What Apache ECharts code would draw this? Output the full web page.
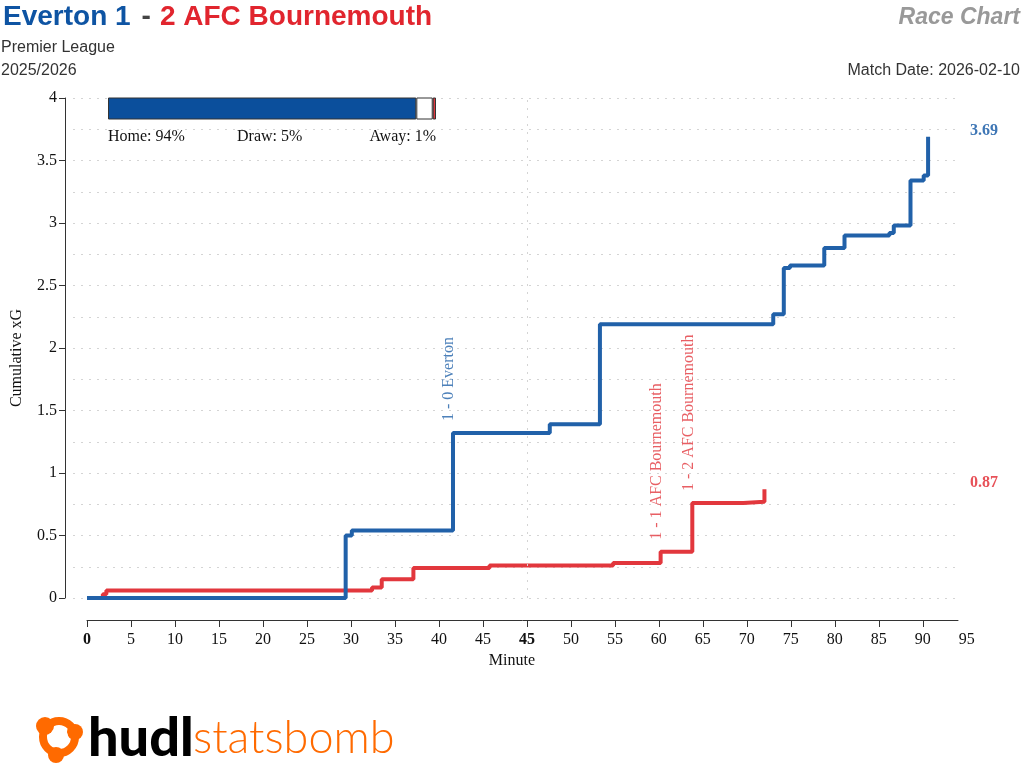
<!DOCTYPE html>
<html>
<head>
<meta charset="utf-8">
<script src="https://cdn.jsdelivr.net/npm/echarts@6/dist/echarts.min.js"></script>
<style>html,body{margin:0;padding:0;background:#fff}#c{width:1024px;height:784px}</style>
</head>
<body>
<div id="c"></div>
<script>
// ---- data ----
// minutes on an elapsed scale: first half 0..50 (incl. stoppage), second half minute m -> m + 5
const homeMinute = [0, 29.4, 30.1, 41.6, 52.6, 58.3, 78.0, 79.2, 79.9, 83.8, 86.1, 91.2, 91.7, 93.6, 95.1, 95.6];
const homeXG     = [0, 0.50, 0.54, 1.32, 1.39, 2.19, 2.27, 2.64, 2.66, 2.80, 2.90, 2.92, 2.98, 3.34, 3.38, 3.69];
const awayMinute = [0, 1.8, 2.2, 32.4, 33.5, 37.1, 45.75, 59.8, 65.2, 68.8, 74.6, 77.0];
const awayXG     = [0, 0.03, 0.06, 0.085, 0.15, 0.24, 0.26, 0.28, 0.37, 0.76, 0.77, 0.87];
const homeGoalMinute = [41.6];
const homeGoalXG     = [1.32];
const homeGoalText   = ['1 - 0 Everton'];
const awayGoalMinute = [65.2, 68.8];
const awayGoalXG     = [0.37, 0.76];
const awayGoalText   = ['1 - 1 AFC Bournemouth', '1 - 2 AFC Bournemouth'];
const probLabels = ['Home', 'Draw', 'Away'];
const probValues = [94, 5, 1];
const xTickValues = [0,5,10,15,20,25,30,35,40,45,50,55,60,65,70,75,80,85,90,95];
const xLabelValues = [0,5,10,15,20,25,30,35,40,45,50,55,60,65,70,75,80,85,90,95,100];
const yTickValues = [0, 0.5, 1, 1.5, 2, 2.5, 3, 3.5, 4];
const homeName = 'Everton', awayName = 'AFC Bournemouth';
const homeGoals = 1, awayGoals = 2;
const competition = 'Premier League', season = '2025/2026', matchDate = '2026-02-10';

const BLUE = '#2161a9', RED = '#e2373d', TBLUE = '#0e54a3', TRED = '#e1252e', BARBLUE = '#0b4f9c';
const SERIF = '"Liberation Serif", "Times New Roman", serif';
const SANS = '"Liberation Sans", Arial, sans-serif';
const X_MAX = 99;      // end of drawn axis line / gridlines
const X_LABEL_MAX = 100;

const pair = (xs, ys) => xs.map((x, i) => [x, ys[i]]);
const minuteLabel = v => (v <= 45 ? v : v - 5);

const chart = echarts.init(document.getElementById('c'));

const barLeft = 108, barTop = 97, barW = 328, barH = 23;
const probColors = [BARBLUE, '#ffffff', RED];
const x0 = 87, xEnd = 958, yTop = 98, yBot = 598;
const pxPerUnit = (xEnd - x0) / X_MAX;

const option = {
  animation: false,
  backgroundColor: '#fff',
  grid: [
    { left: 73, right: 1024 - xEnd, top: yTop, bottom: 784 - yBot },
    { left: x0, right: 1024 - (x0 + pxPerUnit * X_LABEL_MAX), top: yTop, bottom: 784 - yBot },
    { left: barLeft, width: barW, top: barTop, height: barH },
    { left: x0, right: 1024 - xEnd, top: yTop, bottom: 784 - yBot }
  ],
  xAxis: [
    { gridIndex: 0, type: 'value', min: 0, max: 1, show: false },
    {
      gridIndex: 1, type: 'value', min: 0, max: X_LABEL_MAX, offset: 22,
      name: 'Minute', nameLocation: 'middle', nameGap: 30,
      nameTextStyle: { fontFamily: SERIF, fontSize: 16, color: '#111', padding: [0, 30, 0, 0] },
      axisLine: { show: false, onZero: false },
      axisTick: { show: true, length: 7, lineStyle: { color: '#333' }, customValues: xTickValues },
      axisLabel: {
        customValues: xLabelValues, showMaxLabel: true,
        fontFamily: SERIF, fontSize: 16, color: '#111', margin: 12,
        formatter: v => (v === 0 || v === 50) ? '{b|' + minuteLabel(v) + '}' : String(minuteLabel(v)),
        rich: { b: { fontFamily: SERIF, fontSize: 16, fontWeight: 'bold', color: '#111' } }
      },
      splitLine: { show: false }
    },
    { gridIndex: 2, type: 'value', min: 0, max: 100, show: false },
    {
      gridIndex: 3, type: 'value', min: 0, max: X_MAX, offset: 22,
      axisLine: { show: true, onZero: false, lineStyle: { color: '#333', width: 1 } },
      axisTick: { show: false }, axisLabel: { show: false }, splitLine: { show: false }
    }
  ],
  yAxis: [
    {
      gridIndex: 0, type: 'value', min: 0, max: 4, interval: 0.25,
      axisLine: { show: false }, axisTick: { show: false }, axisLabel: { show: false },
      splitLine: { show: true, lineStyle: { color: '#d4d4d4', type: [2, 6], width: 1 } }
    },
    {
      gridIndex: 1, type: 'value', min: 0, max: 4, offset: 22,
      name: 'Cumulative xG', nameLocation: 'middle', nameGap: 40,
      nameTextStyle: { fontFamily: SERIF, fontSize: 16, color: '#111', padding: [0, 20, 0, 0] },
      axisLine: { show: true, onZero: false, lineStyle: { color: '#333', width: 1 } },
      axisTick: { show: true, length: 6, lineStyle: { color: '#333' }, customValues: yTickValues },
      axisLabel: { customValues: yTickValues, fontFamily: SERIF, fontSize: 16, color: '#111', margin: 8 },
      splitLine: { show: false }
    },
    { gridIndex: 2, type: 'category', data: ['p'], show: false },
    { gridIndex: 3, type: 'value', min: 0, max: 4, show: false }
  ],
  series: [
    {
      type: 'line', name: homeName, xAxisIndex: 1, yAxisIndex: 1, step: 'end',
      data: pair(homeMinute, homeXG), showSymbol: false, symbol: 'none',
      lineStyle: { color: BLUE, width: 4 }, z: 4,
      markLine: {
        silent: true, symbol: 'none', label: { show: false },
        lineStyle: { color: '#d4d4d4', type: [2, 6], width: 1 },
        data: [{ xAxis: 50 }]
      }
    },
    {
      type: 'line', name: awayName, xAxisIndex: 1, yAxisIndex: 1, step: 'end',
      data: pair(awayMinute, awayXG), showSymbol: false, symbol: 'none',
      lineStyle: { color: RED, width: 4 }, z: 3
    },
    {
      type: 'scatter', xAxisIndex: 1, yAxisIndex: 1, symbolSize: 0, silent: true, z: 5,
      data: homeGoalMinute.map((m, i) => ({ value: [m, homeGoalXG[i]], label: { formatter: homeGoalText[i] } })),
      label: { show: true, rotate: 90, position: 'top', distance: 12, align: 'left', verticalAlign: 'middle',
        offset: [0, -4], fontFamily: SERIF, fontSize: 16, color: BLUE }
    },
    {
      type: 'scatter', xAxisIndex: 1, yAxisIndex: 1, symbolSize: 0, silent: true, z: 5,
      data: awayGoalMinute.map((m, i) => ({ value: [m, awayGoalXG[i]], label: { formatter: awayGoalText[i] } })),
      label: { show: true, rotate: 90, position: 'top', distance: 12, align: 'left', verticalAlign: 'middle',
        offset: [0, -4], fontFamily: SERIF, fontSize: 16, color: RED }
    },
    {
      type: 'scatter', xAxisIndex: 1, yAxisIndex: 1, symbolSize: 0, silent: true, clip: false, z: 5,
      data: [
        { value: [X_MAX, homeXG[homeXG.length - 1]], label: { color: TBLUE } },
        { value: [X_MAX, awayXG[awayXG.length - 1]], label: { color: TRED } }
      ],
      label: { show: true, position: 'right', distance: 12, offset: [0, -6],
        formatter: p => p.value[1].toFixed(2), fontFamily: SERIF, fontSize: 16, fontWeight: 'bold' }
    }
  ].concat(probValues.map((v, i) => ({
    type: 'bar', xAxisIndex: 2, yAxisIndex: 2, stack: 'prob', barWidth: barH - 1,
    data: [v], silent: true,
    itemStyle: { color: probColors[i], borderColor: '#333', borderWidth: 1 }
  }))),
  graphic: [
    {
      type: 'text', left: 3, top: 3,
      style: {
        text: '{h|' + homeName + ' ' + homeGoals + '}{d|-}{a|' + awayGoals + ' ' + awayName + '}',
        rich: {
          h: { fontFamily: SANS, fontSize: 28, fontWeight: 'bold', fill: TBLUE },
          d: { fontFamily: SANS, fontSize: 28, fontWeight: 'bold', fill: '#444', padding: [0, 9, 0, 11] },
          a: { fontFamily: SANS, fontSize: 28, fontWeight: 'bold', fill: TRED }
        }
      }
    },
    { type: 'text', left: 1, top: 40, style: { text: competition, fontFamily: SANS, fontSize: 16, fill: '#333' } },
    { type: 'text', left: 1, top: 63, style: { text: season, fontFamily: SANS, fontSize: 16, fill: '#333' } },
    { type: 'text', right: 4, top: 6, style: { text: 'Race Chart', fontFamily: SANS, fontSize: 23, fontWeight: 'bold', fontStyle: 'italic', fill: '#999' } },
    { type: 'text', right: 4, top: 63, style: { text: 'Match Date: ' + matchDate, fontFamily: SANS, fontSize: 16, fill: '#333' } },
    { type: 'text', left: barLeft, top: barTop + barH + 9, style: { text: probLabels[0] + ': ' + probValues[0] + '%', fontFamily: SERIF, fontSize: 16, fill: '#111' } },
    { type: 'text', left: barLeft + barW / 2 - 35, top: barTop + barH + 9, style: { text: probLabels[1] + ': ' + probValues[1] + '%', fontFamily: SERIF, fontSize: 16, fill: '#111' } },
    { type: 'text', right: 1024 - barLeft - barW, top: barTop + barH + 9, style: { text: probLabels[2] + ': ' + probValues[2] + '%', fontFamily: SERIF, fontSize: 16, fill: '#111', align: 'right' } },
    // logo
    {
      type: 'group', left: 36, top: 712,
      children: [
        { type: 'arc', shape: { cx: 25, cy: 25, r: 16, startAngle: 0, endAngle: Math.PI * 2 }, style: { stroke: '#ff6a00', lineWidth: 8, fill: null } },
        { type: 'circle', shape: { cx: 11, cy: 14, r: 9 }, style: { fill: '#ff6a00' } },
        { type: 'circle', shape: { cx: 41, cy: 20, r: 8 }, style: { fill: '#ff6a00' } },
        { type: 'circle', shape: { cx: 22, cy: 43, r: 8 }, style: { fill: '#ff6a00' } },
        { type: 'circle', shape: { cx: 25, cy: 25, r: 9 }, style: { fill: '#fff' } },
        { type: 'text', x: 54, y: 0, style: { text: 'hudl', fontFamily: 'Lato, sans-serif', fontSize: 54, fontWeight: 900, fill: '#000' } },
        { type: 'text', x: 159, y: 4, style: { text: 'statsbomb', fontFamily: 'Lato, sans-serif', fontSize: 45, fontWeight: 300, fill: '#ff6a00' } }
      ]
    }
  ]
};
chart.setOption(option);
</script>
</body>
</html>
